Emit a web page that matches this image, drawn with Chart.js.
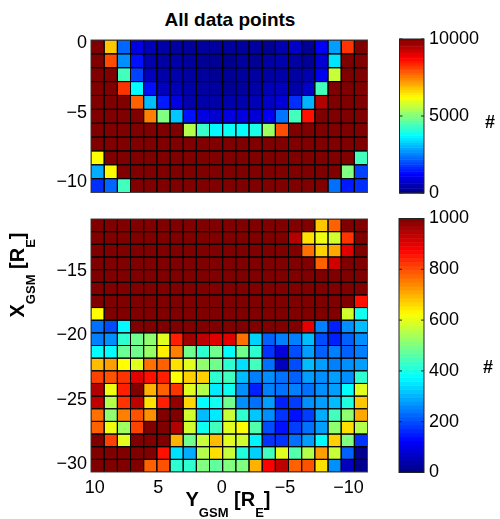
<!DOCTYPE html>
<html>
<head>
<meta charset="utf-8">
<script src="https://cdn.jsdelivr.net/npm/chart.js@4.4.1/dist/chart.umd.min.js"></script>
<style>
  html, body { margin: 0; padding: 0; background: #fff; }
  body { width: 500px; height: 519px; position: relative; overflow: hidden;
         font-family: "Liberation Sans", Arial, sans-serif; color: #000; }
  canvas { position: absolute; }
  .lbl { position: absolute; font-weight: bold; white-space: nowrap; }
  .lbl sub { font-size: 13px; vertical-align: baseline; position: relative; top: 11px; }
</style>
</head>
<body>
<div class="lbl" style="left:130px;top:10px;width:200px;text-align:center;font-size:19px;line-height:19px">All data points</div>

<canvas id="topMap" style="left:0;top:30px" width="380" height="170"></canvas>
<canvas id="topBar" style="left:380px;top:25px" width="120" height="180"></canvas>
<canvas id="botMap" style="left:0;top:205px" width="380" height="300"></canvas>
<canvas id="botBar" style="left:380px;top:205px" width="120" height="290"></canvas>

<div class="lbl" style="left:485px;top:113px;font-size:18px;line-height:18px">#</div>
<div class="lbl" style="left:483px;top:358px;font-size:18px;line-height:18px">#</div>
<div class="lbl" style="left:128px;top:489px;width:200px;text-align:center;font-size:20px;line-height:20px">Y<sub>GSM</sub> [R<sub>E</sub>]</div>
<div class="lbl" style="left:7px;top:375px;width:200px;text-align:center;font-size:20px;line-height:20px;transform-origin:0 0;transform:rotate(-90deg)">X<sub>GSM</sub> [R<sub>E</sub>]</div>

<script>
// ---------- DATA ----------
// Y_GSM axis (horizontal, reversed) and the 21 column bins
const yGsmRange = [-11.5, 10.3];
const colCount = 21;
// X_GSM ranges of the two panels (rows run top to bottom)
const topXRange = [-10.75, 0.25];
const botXRange = [-30.6, -11.0];

const yGsmTicks = [10, 5, 0, -5, -10];
const topXTicks = [0, -5, -10];
const botXTicks = [-15, -20, -25, -30];
const topBarTicks = [0, 5000, 10000];
const botBarTicks = [0, 200, 400, 600, 800, 1000];
const topMax = 10000;
const botMax = 1000;

// counts per cell, top panel (X_GSM 0 .. -11)
const topCounts = [
  [10000,6800,2250,950,550,400,350,300,300,300,300,300,300,200,450,700,200,1200,2800,8250,10000],
  [10000,8000,2650,1400,450,350,400,300,200,200,150,300,200,350,450,350,200,850,3500,10000,10000],
  [10000,10000,4400,1900,600,400,450,350,300,200,200,300,300,350,400,350,450,1100,5700,10000,10000],
  [10000,10000,8250,3750,1400,600,550,400,350,300,200,300,400,550,600,400,700,4400,10000,10000,10000],
  [10000,10000,10000,7800,3100,1500,950,450,400,400,450,450,550,700,850,1700,3000,9500,10000,10000,10000],
  [10000,10000,10000,10000,7500,5000,3200,1400,950,800,950,950,850,1200,2400,4400,8600,10000,10000,10000,10000],
  [10000,10000,10000,10000,10000,10000,10000,5500,4300,3700,3850,3750,4000,5300,8000,10000,10000,10000,10000,10000,10000],
  [10000,10000,10000,10000,10000,10000,10000,10000,10000,10000,10000,10000,10000,10000,10000,10000,10000,10000,10000,10000,10000],
  [6250,10000,10000,10000,10000,10000,10000,10000,10000,10000,10000,10000,10000,10000,10000,10000,10000,10000,10000,10000,4400],
  [2950,6300,10000,10000,10000,10000,10000,10000,10000,10000,10000,10000,10000,10000,10000,10000,10000,10000,10000,5000,1900],
  [1700,2250,4400,10000,10000,10000,10000,10000,10000,10000,10000,10000,10000,10000,10000,10000,10000,10000,2350,1500,1700]
];

// counts per cell, bottom panel (X_GSM -11 .. -30.6)
const botCounts = [
  [1000,1000,1000,1000,1000,1000,1000,1000,1000,1000,1000,1000,1000,1000,1000,1000,1000,680,780,1000,1000],
  [1000,1000,1000,1000,1000,1000,1000,1000,1000,1000,1000,1000,1000,1000,1000,950,655,610,580,825,1000],
  [1000,1000,1000,1000,1000,1000,1000,1000,1000,1000,1000,1000,1000,1000,1000,1000,765,670,710,905,1000],
  [1000,1000,1000,1000,1000,1000,1000,1000,1000,1000,1000,1000,1000,1000,1000,1000,1000,780,920,1000,1000],
  [1000,1000,1000,1000,1000,1000,1000,1000,1000,1000,1000,1000,1000,1000,1000,1000,1000,1000,1000,1000,1000],
  [1000,1000,1000,1000,1000,1000,1000,1000,1000,1000,1000,1000,1000,1000,1000,1000,1000,1000,1000,1000,1000],
  [1000,1000,1000,1000,1000,1000,1000,1000,1000,1000,1000,1000,1000,1000,1000,1000,1000,1000,1000,1000,860],
  [625,1000,1000,1000,1000,1000,1000,1000,1000,1000,1000,1000,1000,1000,1000,1000,1000,1000,1000,580,390],
  [235,200,370,1000,1000,1000,1000,1000,1000,1000,1000,1000,1000,1000,1000,1000,900,250,155,265,310],
  [250,265,420,485,515,595,845,970,940,905,905,765,330,220,250,250,310,200,155,220,265],
  [375,375,480,485,525,640,750,485,420,485,375,485,420,175,90,200,280,220,250,220,250],
  [690,720,625,595,765,780,655,595,515,485,420,345,440,235,60,200,310,280,250,265,280],
  [810,795,825,905,860,845,625,670,670,420,440,310,250,265,235,220,280,265,280,265,420],
  [950,610,845,1000,700,780,825,595,550,355,390,265,155,250,235,250,235,265,280,375,595],
  [940,550,825,940,655,845,980,665,375,390,485,265,235,280,155,185,265,280,310,405,680],
  [765,515,750,795,735,1000,1000,580,310,355,570,420,320,265,175,140,185,295,440,515,710],
  [780,610,530,810,1000,1000,950,580,390,440,595,625,455,200,140,185,235,280,515,655,550],
  [1000,810,600,1000,1000,1000,700,485,570,690,595,580,365,175,175,235,280,375,670,500,175],
  [1000,1000,1000,1000,1000,860,345,295,550,655,570,405,330,440,595,455,550,720,570,220,15],
  [1000,1000,1000,1000,780,795,420,420,500,470,500,500,700,875,940,780,795,655,265,60,15]
];

// ---------- HELPERS ----------
const FONT = { family: '"Liberation Sans", Arial, sans-serif', size: 18 };

// matlab style jet colormap, t in [0,1]
function jet(t) {
  t = Math.max(0, Math.min(1, t));
  const c = a => Math.round(255 * Math.max(0, Math.min(1, a)));
  const r = Math.min(4 * t - 1.5, -4 * t + 4.5);
  const g = Math.min(4 * t - 0.5, -4 * t + 3.5);
  const b = Math.min(4 * t + 0.5, -4 * t + 2.5);
  return `rgb(${c(r)},${c(g)},${c(b)})`;
}

const minus = v => (v < 0 ? '\u2212' + Math.abs(v) : String(v));
const setTicks = vals => scale => { scale.ticks = vals.map(v => ({ value: v })); };
const fixY = w => scale => { scale.width = w; scale.paddingTop = 0; scale.paddingBottom = 0; };
const fixX = h => scale => { scale.height = h; scale.paddingLeft = 0; scale.paddingRight = 0; };

// turn a count table into cell points (bin centres) for the chart
function toCells(counts, xRange) {
  const colW = (yGsmRange[1] - yGsmRange[0]) / colCount;
  const rowH = (xRange[1] - xRange[0]) / counts.length;
  const pts = [];
  counts.forEach((row, r) => {
    row.forEach((v, c) => {
      pts.push({ x: yGsmRange[1] - (c + 0.5) * colW, y: xRange[1] - (r + 0.5) * rowH, v, w: colW, h: rowH });
    });
  });
  return pts;
}

// ----------- HEATMAP PLUGIN -----------
const heatmap = {
  id: 'heatmap',
  beforeDatasetsDraw(chart, args, opts) {
    const { ctx, chartArea: a } = chart;
    const xs = chart.scales.x, ys = chart.scales.y;
    const pts = chart.data.datasets[0].data;
    ctx.save();
    ctx.beginPath();
    ctx.rect(a.left, a.top, a.right - a.left, a.bottom - a.top);
    ctx.clip();
    pts.forEach(p => {
      const x0 = xs.getPixelForValue(p.x + p.w / 2), x1 = xs.getPixelForValue(p.x - p.w / 2);
      const y0 = ys.getPixelForValue(p.y + p.h / 2), y1 = ys.getPixelForValue(p.y - p.h / 2);
      ctx.fillStyle = jet(p.v / opts.max);
      ctx.fillRect(x0, y0, x1 - x0, y1 - y0);
    });
    ctx.strokeStyle = '#000';
    ctx.lineWidth = 1;
    pts.forEach(p => {
      const x0 = xs.getPixelForValue(p.x + p.w / 2), x1 = xs.getPixelForValue(p.x - p.w / 2);
      const y0 = ys.getPixelForValue(p.y + p.h / 2), y1 = ys.getPixelForValue(p.y - p.h / 2);
      ctx.strokeRect(x0, y0, x1 - x0, y1 - y0);
    });
    ctx.restore();
    ctx.save();
    ctx.strokeStyle = '#444';
    ctx.lineWidth = 1;
    ctx.strokeRect(a.left, a.top, a.right - a.left, a.bottom - a.top);
    ctx.restore();
  }
};

// ----------- COLORBAR PLUGIN -----------
const colorbar = {
  id: 'colorbar',
  beforeDatasetsDraw(chart, args, opts) {
    const { ctx, chartArea: a } = chart;
    const ys = chart.scales.y;
    const steps = 64;
    ctx.save();
    for (let i = 0; i < steps; i++) {
      const lo = ys.getPixelForValue(opts.max * i / steps);
      const hi = ys.getPixelForValue(opts.max * (i + 1) / steps);
      ctx.fillStyle = jet((i + 0.5) / steps);
      ctx.fillRect(a.left, hi, a.right - a.left, lo - hi + 0.5);
    }
    ctx.strokeStyle = '#222';
    ctx.lineWidth = 1;
    ys.ticks.forEach(t => {
      const py = ys.getPixelForValue(t.value);
      ctx.beginPath();
      ctx.moveTo(a.left, py); ctx.lineTo(a.left + 3, py);
      ctx.moveTo(a.right, py); ctx.lineTo(a.right - 3, py);
      ctx.stroke();
    });
    ctx.strokeRect(a.left, a.top, a.right - a.left, a.bottom - a.top);
    ctx.restore();
  }
};

const base = {
  responsive: false,
  animation: false,
  events: [],
  plugins: { legend: { display: false }, tooltip: { enabled: false } }
};

function heatChart(id, counts, xRange, max, xTicksY, showX, pad, xAxisH) {
  return new Chart(document.getElementById(id), {
    type: 'scatter',
    data: { datasets: [{ data: toCells(counts, xRange), pointRadius: 0 }] },
    options: {
      ...base,
      layout: { padding: pad },
      plugins: { ...base.plugins, heatmap: { max } },
      scales: {
        x: {
          type: 'linear', reverse: true, min: yGsmRange[0], max: yGsmRange[1],
          display: showX,
          afterBuildTicks: setTicks(yGsmTicks),
          afterFit: fixX(xAxisH),
          grid: { display: false, drawTicks: false },
          border: { display: false },
          ticks: { font: FONT, color: '#000', padding: 5, maxRotation: 0, autoSkip: false, callback: minus }
        },
        y: {
          type: 'linear', min: xRange[0], max: xRange[1],
          afterBuildTicks: setTicks(xTicksY),
          afterFit: fixY(91),
          grid: { display: false, drawTicks: false },
          border: { display: false },
          ticks: { font: FONT, color: '#000', padding: 4, autoSkip: false, callback: minus }
        }
      }
    },
    plugins: [heatmap]
  });
}

function barChart(id, max, ticks, pad) {
  return new Chart(document.getElementById(id), {
    type: 'scatter',
    data: { datasets: [{ data: [], pointRadius: 0 }] },
    options: {
      ...base,
      layout: { padding: pad },
      plugins: { ...base.plugins, colorbar: { max } },
      scales: {
        x: { type: 'linear', min: 0, max: 1, display: false, afterFit: fixX(0) },
        y: {
          type: 'linear', position: 'right', min: 0, max: max,
          afterBuildTicks: setTicks(ticks),
          afterFit: fixY(76),
          grid: { display: false, drawTicks: false },
          border: { display: false },
          ticks: { font: FONT, color: '#000', padding: 5, autoSkip: false, callback: v => String(v) }
        }
      }
    },
    plugins: [colorbar]
  });
}

heatChart('topMap', topCounts, topXRange, topMax, topXTicks, false,
  { left: 0, right: 12.5, top: 10, bottom: 7.5 }, 0);
heatChart('botMap', botCounts, botXRange, botMax, botXTicks, true,
  { left: 0, right: 12.5, top: 14, bottom: 0 }, 33);
barChart('topBar', topMax, topBarTicks, { left: 19.5, right: 0, top: 14, bottom: 12 });
barChart('botBar', botMax, botBarTicks, { left: 19, right: 0, top: 13.5, bottom: 22.5 });
</script>
</body>
</html>
